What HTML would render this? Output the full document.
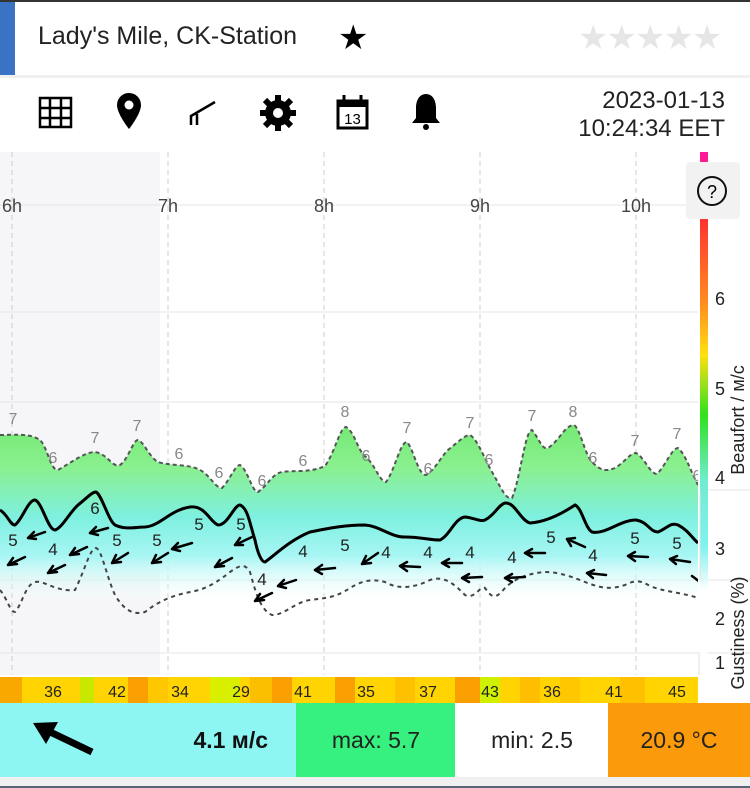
<!DOCTYPE html><html><head><meta charset="utf-8"><style>
body{margin:0;width:750px;height:788px;overflow:hidden;background:#fff;font-family:"Liberation Sans","DejaVu Sans",sans-serif;position:relative}
.a{position:absolute}
</style></head><body>
<div class="a" style="left:0;top:0;width:750px;height:2px;background:#333"></div>
<div class="a" style="left:0;top:2px;width:15px;height:73px;background:#3a72c4"></div>
<div class="a" style="left:38px;top:22px;font-size:25px;color:#222">Lady's Mile, CK-Station</div>
<div class="a" style="left:338px;top:18px;font-size:34px;color:#000">★</div>
<div class="a" style="left:578px;top:18px;font-size:34px;color:#e6e6e6;letter-spacing:-2px">★★★★★</div>
<div class="a" style="left:0;top:75px;width:750px;height:3px;background:#f0f0f0"></div>
<svg class="a" style="left:0;top:78px" width="750" height="75">
<g fill="none" stroke="#000" stroke-width="2.5"><rect x="40" y="20" width="31" height="29"/><path d="M50 20V49M61 20V49M40 30H71M40 40H71"/></g>
<path d="M129 15a12 12 0 0 1 12 12c0 9-12 24-12 24s-12-15-12-24a12 12 0 0 1 12-12z" fill="#000"/><circle cx="129" cy="27" r="4.5" fill="#fff"/>
<path d="M191 47V38l24-14M197 47V36" stroke="#000" stroke-width="2.5" fill="none"/>
<circle cx="278" cy="35" r="13" fill="#000"/><g stroke="#000" stroke-width="6"><path d="M278 17V53M260 35H296M265 22L291 48M291 22L265 48"/></g><circle cx="278" cy="35" r="5" fill="#fff"/>
<rect x="338" y="23" width="29" height="27" fill="#fff" stroke="#000" stroke-width="3"/><rect x="338" y="22" width="29" height="7" fill="#000"/><path d="M344 17V24M361 17V24" stroke="#000" stroke-width="3"/><text x="352.5" y="46" font-size="15" text-anchor="middle">13</text>
<path d="M426 16c-7 0-10 7-10 14v10l-4 5h28l-4-5V30c0-7-3-14-10-14z" fill="#000"/><circle cx="426" cy="49" r="3" fill="#000"/>
<text x="725" y="30" font-size="24" text-anchor="end" fill="#222">2023-01-13</text>
<text x="725" y="58" font-size="24" text-anchor="end" fill="#222">10:24:34 EET</text>
</svg>
<svg class="a" style="left:0;top:0" width="750" height="788">
<defs>
<linearGradient id="g" gradientUnits="userSpaceOnUse" x1="0" y1="410" x2="0" y2="605"><stop offset="0" stop-color="#6ee86a"/><stop offset="0.3" stop-color="#8af090"/><stop offset="0.55" stop-color="#7ef0e0"/><stop offset="0.75" stop-color="#a8f6f4"/><stop offset="1" stop-color="#fff" stop-opacity="0"/></linearGradient>
<linearGradient id="cb" gradientUnits="userSpaceOnUse" x1="0" y1="152" x2="0" y2="700"><stop offset="0" stop-color="#ff1aa0"/><stop offset="0.12" stop-color="#ff3030"/><stop offset="0.28" stop-color="#ff9020"/><stop offset="0.37" stop-color="#ffe010"/><stop offset="0.48" stop-color="#30e020"/><stop offset="0.6" stop-color="#70ecd0"/><stop offset="0.72" stop-color="#80f2f0"/><stop offset="0.8" stop-color="#fff"/><stop offset="1" stop-color="#fff"/></linearGradient>
</defs>
<rect x="0" y="152" width="160" height="523" fill="#f6f6f8"/>
<g stroke="#e4e4e4" stroke-width="1"><path d="M0 205H750M0 312H750M0 402H750M0 490H698M0 580H698M0 653H750"/></g>
<g stroke="#ccc" stroke-dasharray="5,4"><path d="M12 152V675M168 152V675M324 152V675M480 152V675M636 152V675"/></g>
<g font-size="18" fill="#444" text-anchor="middle"><text x="12" y="212">6h</text><text x="168" y="212">7h</text><text x="324" y="212">8h</text><text x="480" y="212">9h</text><text x="636" y="212">10h</text></g>
<path d="M0 435C15 435 30 433 40 440C48 448 50 470 58 470C72 462 85 452 95 452C108 454 112 468 120 465C128 460 133 440 138 440C144 442 150 458 158 462C170 466 190 464 200 470C210 475 215 488 222 488C230 480 235 465 240 465C248 470 252 492 258 492C268 485 272 474 282 472C295 470 310 473 325 466C335 452 340 427 346 427C355 432 358 452 366 457C375 465 380 482 386 482C395 470 400 442 407 442C414 450 418 475 426 475C435 470 440 458 448 450C458 442 465 435 470 435C478 440 485 460 492 472C500 485 505 500 512 498C520 480 525 430 532 430C540 440 542 450 548 448C560 440 565 425 574 425C580 428 585 455 592 462C600 470 605 472 615 468C625 462 630 453 636 453C645 458 650 474 657 474C666 465 672 448 678 448C686 455 690 470 698 485L698 605L0 605Z" fill="url(#g)" stroke="none"/>
<path d="M0 435C15 435 30 433 40 440C48 448 50 470 58 470C72 462 85 452 95 452C108 454 112 468 120 465C128 460 133 440 138 440C144 442 150 458 158 462C170 466 190 464 200 470C210 475 215 488 222 488C230 480 235 465 240 465C248 470 252 492 258 492C268 485 272 474 282 472C295 470 310 473 325 466C335 452 340 427 346 427C355 432 358 452 366 457C375 465 380 482 386 482C395 470 400 442 407 442C414 450 418 475 426 475C435 470 440 458 448 450C458 442 465 435 470 435C478 440 485 460 492 472C500 485 505 500 512 498C520 480 525 430 532 430C540 440 542 450 548 448C560 440 565 425 574 425C580 428 585 455 592 462C600 470 605 472 615 468C625 462 630 453 636 453C645 458 650 474 657 474C666 465 672 448 678 448C686 455 690 470 698 485" fill="none" stroke="#555" stroke-width="2" stroke-dasharray="4,3"/>
<path d="M0 510C8 515 10 525 15 525C22 520 28 500 35 500C42 502 48 530 55 530C62 528 70 512 78 505C88 497 92 492 96 492C102 495 108 520 115 525C125 530 135 527 145 527C160 526 170 510 190 507C205 505 210 522 218 525C228 525 234 505 240 505C248 508 250 525 255 540C258 555 262 562 265 562C275 555 290 540 310 532C330 528 345 525 365 525C380 526 390 537 405 537C420 537 430 540 440 540C450 535 455 518 465 517C475 518 480 522 485 520C495 515 498 505 505 503C515 502 520 520 530 523C545 522 560 515 575 505C582 508 585 528 592 532C605 535 620 520 636 520C648 522 650 532 658 532C668 528 670 522 678 525C688 530 692 538 698 543" fill="none" stroke="#000" stroke-width="3"/>
<path d="M0 590C8 600 10 612 15 612C22 605 25 585 35 582C45 580 55 592 75 590C85 570 90 548 96 548C102 550 106 575 115 595C125 612 135 615 145 612C160 600 175 595 190 592C200 590 210 588 230 572C240 565 245 563 250 572C255 590 260 610 272 615C285 615 295 602 310 600C325 598 335 598 350 588C360 582 370 578 385 582C395 588 410 590 430 580C445 575 455 585 465 595C475 600 480 585 485 588C492 598 495 600 505 588C515 578 530 573 545 572C560 572 575 578 585 582C600 588 610 590 625 585C635 580 640 580 650 586C665 592 680 592 698 598" fill="none" stroke="#444" stroke-width="2" stroke-dasharray="4,4"/>
<g font-size="16" fill="#888" text-anchor="middle"><text x="13" y="424">7</text><text x="53" y="463">6</text><text x="95" y="443">7</text><text x="137" y="431">7</text><text x="179" y="459">6</text><text x="219" y="478">6</text><text x="262" y="486">6</text><text x="303" y="466">6</text><text x="345" y="417">8</text><text x="366" y="461">6</text><text x="407" y="433">7</text><text x="428" y="474">6</text><text x="470" y="428">7</text><text x="489" y="465">6</text><text x="532" y="421">7</text><text x="573" y="417">8</text><text x="593" y="463">6</text><text x="635" y="446">7</text><text x="677" y="439">7</text><text x="697" y="481">6</text></g>
<g font-size="17" fill="#222" text-anchor="middle"><text x="13" y="546">5</text><text x="53" y="555">4</text><text x="95" y="514">6</text><text x="117" y="546">5</text><text x="157" y="546">5</text><text x="199" y="530">5</text><text x="241" y="530">5</text><text x="262" y="585">4</text><text x="303" y="557">4</text><text x="345" y="551">5</text><text x="386" y="558">4</text><text x="428" y="558">4</text><text x="470" y="558">4</text><text x="512" y="563">4</text><text x="551" y="543">5</text><text x="593" y="561">4</text><text x="635" y="544">5</text><text x="677" y="549">5</text></g>
<g stroke="#000" stroke-width="2.5" fill="none" stroke-linecap="round">
<path d="M25 557L8 565M8 565l9-1M8 565l5-7"/>
<path d="M45 532L28 538M28 538l8 1M28 538l6-6"/>
<path d="M65 565L48 573M48 573l9-1M48 573l5-7"/>
<path d="M87 547L70 555M70 555l9-1M70 555l5-7"/>
<path d="M108 528L90 533M90 533l8 2M90 533l6-6"/>
<path d="M128 553L112 563M112 563l9-1M112 563l4-8"/>
<path d="M168 553L152 563M152 563l9-1M152 563l4-8"/>
<path d="M192 543L172 549M172 549l8 2M172 549l6-6"/>
<path d="M232 558L215 567M215 567l9-1M215 567l5-7"/>
<path d="M252 537L235 545M235 545l8 0M235 545l5-7"/>
<path d="M272 593L255 601M255 601l9-1M255 601l5-7"/>
<path d="M296 580L278 586M278 586l8 2M278 586l6-6"/>
<path d="M335 568L315 570M315 570l7 4M315 570l7-5"/>
<path d="M378 553L362 564M362 564l9-1M362 564l4-8"/>
<path d="M420 567L400 566M400 566l7 5M400 566l7-4"/>
<path d="M462 563L442 563M442 563l7 4M442 563l7-4"/>
<path d="M482 577L462 578M462 578l7 4M462 578l7-4"/>
<path d="M525 577L505 578M505 578l7 4M505 578l7-4"/>
<path d="M545 553L525 553M525 553l7 4M525 553l7-4"/>
<path d="M585 547L567 539M567 539l4 7M567 539l8-1"/>
<path d="M606 575L587 573M587 573l6 5M587 573l7-3"/>
<path d="M648 557L628 556M628 556l7 5M628 556l7-4"/>
<path d="M690 562L670 559M670 559l6 5M670 559l7-3"/>
<path d="M700 582L692 576"/>
</g>
<rect x="698" y="152" width="54" height="530" fill="#fff"/>
<rect x="700" y="152" width="8" height="550" fill="url(#cb)"/>
<rect x="686" y="162" width="54" height="57" rx="4" fill="#f2f2f2"/>
<circle cx="712" cy="191" r="14" fill="none" stroke="#111" stroke-width="2"/><text x="712" y="198" font-size="18" text-anchor="middle">?</text>
<g stroke="#e4e4e4"><path d="M708 490H750M708 580H750M708 653H750"/></g>
<path d="M700 490V580M699 652V675" stroke="#e0e0e0"/>
<g font-size="18" fill="#222" text-anchor="middle"><text x="720" y="305">6</text><text x="720" y="395">5</text><text x="720" y="484">4</text><text x="720" y="555">3</text><text x="720" y="625">2</text><text x="720" y="669">1</text></g>
<text transform="translate(744,420) rotate(-90)" font-size="18" fill="#222" text-anchor="middle">Beaufort / м/с</text>
<text transform="translate(744,633) rotate(-90)" font-size="18" fill="#222" text-anchor="middle">Gustiness (%)</text>
<g><rect x="0" y="677" width="698" height="26" fill="#ffd400"/>
<rect x="0" y="677" width="22" height="26" fill="#f9a800"/><rect x="80" y="677" width="14" height="26" fill="#c8e800"/><rect x="128" y="677" width="20" height="26" fill="#fa9f00"/><rect x="148" y="677" width="20" height="26" fill="#ffc700"/><rect x="210" y="677" width="30" height="26" fill="#d8f000"/><rect x="250" y="677" width="22" height="26" fill="#fbbf00"/><rect x="272" y="677" width="20" height="26" fill="#fa9f00"/><rect x="335" y="677" width="20" height="26" fill="#fa9f00"/><rect x="395" y="677" width="20" height="26" fill="#ffc000"/><rect x="455" y="677" width="25" height="26" fill="#fa9f00"/><rect x="480" y="677" width="20" height="26" fill="#d0f000"/><rect x="520" y="677" width="20" height="26" fill="#ffbf00"/><rect x="560" y="677" width="20" height="26" fill="#ffc700"/><rect x="620" y="677" width="25" height="26" fill="#ffc000"/></g>
<g font-size="16" fill="#222" text-anchor="middle"><text x="53" y="697">36</text><text x="117" y="697">42</text><text x="180" y="697">34</text><text x="241" y="697">29</text><text x="303" y="697">41</text><text x="366" y="697">35</text><text x="428" y="697">37</text><text x="490" y="697">43</text><text x="552" y="697">36</text><text x="614" y="697">41</text><text x="677" y="697">45</text></g>
<rect x="0" y="703" width="296" height="74" fill="#8ef6f2"/>
<rect x="296" y="703" width="159" height="74" fill="#36f07f"/>
<rect x="455" y="703" width="153" height="74" fill="#fff"/>
<rect x="608" y="703" width="142" height="74" fill="#fb9a0a"/>
<rect x="0" y="777" width="750" height="9" fill="#f0f0f0"/><rect x="0" y="786" width="750" height="2" fill="#556677"/>
<path d="M92 752L46 730" stroke="#000" stroke-width="7"/><path d="M33 723L58 722L46 744Z" fill="#000"/>
<text x="268" y="748" font-size="23" font-weight="bold" text-anchor="end" fill="#111">4.1 м/с</text>
<text x="376" y="748" font-size="23" text-anchor="middle" fill="#222">max: 5.7</text>
<text x="532" y="748" font-size="23" text-anchor="middle" fill="#222">min: 2.5</text>
<text x="679" y="748" font-size="23" text-anchor="middle" fill="#222">20.9 °C</text>
</svg>
</body></html>
